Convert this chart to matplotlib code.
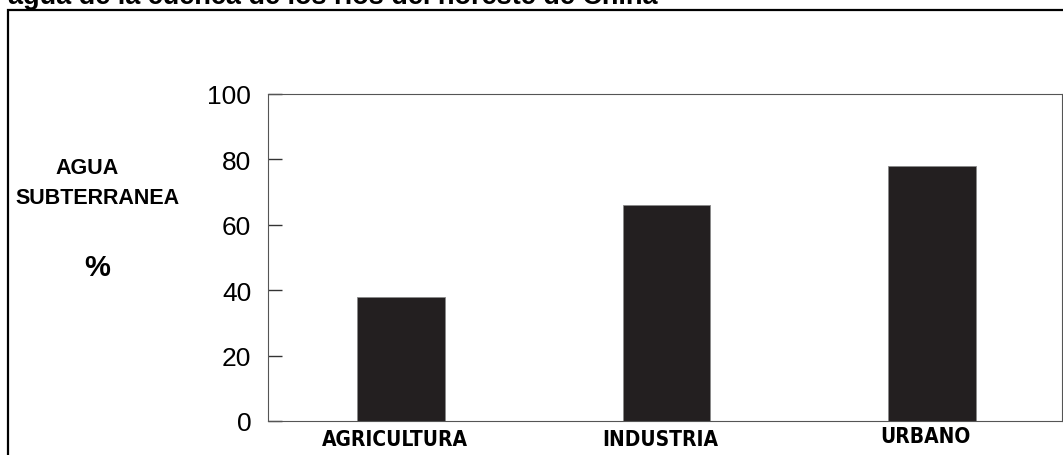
import matplotlib
matplotlib.use("Agg")
import matplotlib.pyplot as plt
from matplotlib.patches import Rectangle

categories = ["AGRICULTURA", "INDUSTRIA", "URBANO"]
values = [38, 66, 78]
yticks = [0, 20, 40, 60, 80, 100]
title = "agua de la cuenca de los ríos del noreste de China"
ylabel_lines = ["AGUA", "SUBTERRANEA"]

W, H = 1063, 456
fig = plt.figure(figsize=(W / 100, H / 100), dpi=100)

def fx(px):
    return px / W

def fy(py):
    return 1 - py / H

# outer frame (extends beyond canvas on right and bottom)
fig.patches.append(Rectangle((fx(8), fy(480)), fx(1100) - fx(8), fy(11) - fy(480),
                             transform=fig.transFigure, fill=False, edgecolor="black",
                             linewidth=1.6, clip_on=False))

# title, cut off at the top as in the reference
fig.text(fx(8), fy(4), title, ha="left", va="baseline", fontsize=19.5,
         fontweight="bold", family="Liberation Sans")

ax = fig.add_axes([fx(268), fy(422), fx(1062) - fx(268), fy(95) - fy(422)])
x = list(range(len(categories)))
ax.bar(x, values, width=0.33, color="#231f20", edgecolor="#8a8a8a", linewidth=0.6)
ax.set_xlim(-0.5, 2.49)
ax.set_ylim(0, 100)
ax.set_yticks(yticks)
ax.set_yticklabels([str(t) for t in yticks], family="Liberation Sans", fontsize=19)
ax.tick_params(axis="y", direction="in", length=10, width=1.0, color="#333333", pad=12)
ax.set_xticks(x)
ax.set_xticklabels([])
ax.tick_params(axis="x", length=0)
for s in ax.spines.values():
    s.set_color("#555555")
    s.set_linewidth(0.8)

label_y = [440, 440, 437]
for i, (c, yy) in enumerate(zip(categories, label_y)):
    xpix = 268 + (i + 0.5) / 2.99 * (1062 - 268)
    fig.text(fx(xpix - 6), fy(yy), c, ha="center", va="center", fontsize=15,
             fontweight="bold", fontstretch="condensed", family="DejaVu Sans")

fig.text(fx(87), fy(169), ylabel_lines[0], ha="center", va="center", fontsize=15.5,
         fontweight="bold", family="Liberation Sans")
fig.text(fx(98), fy(198), ylabel_lines[1], ha="center", va="center", fontsize=15.5,
         fontweight="bold", family="Liberation Sans")
fig.text(fx(97), fy(268), "%", ha="center", va="center", fontsize=21,
         fontweight="bold", family="Liberation Sans")

fig.savefig("out.png", dpi=100)
